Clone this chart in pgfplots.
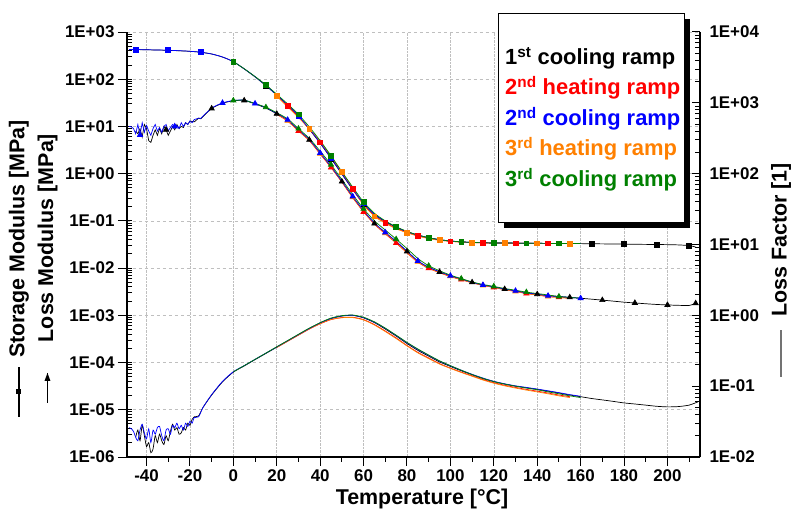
\documentclass[border=0pt]{standalone}
\usepackage{fontspec}
\setmainfont{Liberation Sans}
\usepackage{pgfplots}
\pgfplotsset{compat=1.18}
\definecolor{cRe}{RGB}{255,0,0}
\definecolor{cBl}{RGB}{0,0,255}
\definecolor{cOr}{RGB}{255,128,0}
\definecolor{cGr}{RGB}{0,128,0}
\pgfplotsset{
  base/.style={at={(0,0)}, anchor=south west, scale only axis, width=573bp, height=425bp,
    xmin=-49, xmax=215,
    tick label style={font=\fontsize{17}{17}\selectfont\bfseries},
    axis line style={line width=1.5bp, black},
    tick style={black, line width=1bp}},
  ps/.style={line width=0.7bp, smooth, tension=0.4, mark repeat=3, mark options={solid}},
  sq/.style={mark=square*, mark size=2.4bp},
  tri/.style={mark=triangle*, mark size=3bp},
  lf/.style={line width=0.7bp, smooth, tension=0.4, no marks},
}
\begin{document}
\begin{tikzpicture}
\begin{axis}[base,
  ymode=log, ymin=1e-6, ymax=1e3,
  axis x line*=bottom, axis y line*=left,
  xtick={-40,-20,...,200},
  xticklabels={-40,-20,0,20,40,60,80,100,120,140,160,180,200},
  extra x ticks={-30,-10,10,30,50,70,90,110,130,150,170,190,210},
  extra x tick labels={},
  extra x tick style={grid=none, major tick length=5bp},
  ytick={1e-6,1e-5,1e-4,1e-3,1e-2,1e-1,1,10,100,1000},
  yticklabels={1E-06,1E-05,1E-04,1E-03,1E-02,1E-01,1E+00,1E+01,1E+02,1E+03},
  tick align=outside, major tick length=9bp, minor tick length=-5bp,
  xmajorgrids, ymajorgrids,
  major x grid style={densely dotted, black!25, line width=0.6bp},
  major y grid style={dashed, black!25, line width=0.6bp},
]
% ---------- 1st cooling (black) ----------
\addplot[black, ps, sq, mark phase=1] coordinates {(-45,425)(-40,420)(-35,415)(-30,410)(-25,400)(-20,390)(-15,372)(-10,342)(-5,295)(0,235)(5,165)(10,112)(15,73)(20,46)(25,28)(30,16.5)(35,8.7)(40,4.4)(45,2.1)(50,0.98)(55,0.46)(60,0.23)(65,0.135)(70,0.097)(75,0.073)(80,0.059)(85,0.050)(90,0.044)(95,0.040)(100,0.0375)(105,0.036)(110,0.035)(115,0.0345)(120,0.034)(125,0.034)(130,0.0338)(135,0.0336)(140,0.0335)(145,0.0334)(150,0.0333)(155,0.0332)(160,0.033)(165,0.0328)(170,0.0326)(175,0.0324)(180,0.0322)(185,0.032)(190,0.0318)(195,0.0316)(200,0.0314)(205,0.031)(210,0.030)(213,0.028)};
\addplot[black, line width=0.7bp, tri, mark repeat=15, mark phase=15] coordinates {(-45,8)(-44,7)(-43,9)(-42,6)(-41,11)(-40,9)(-39,5)(-38,4.6)(-37,6.5)(-36,8.5)(-35,6.5)(-34,9)(-33,7)(-32,10)(-31,8.5)(-30,6.5)(-29,8)(-28,10)(-27,8.5)(-26,11)(-25,9)(-24,10)(-23,9.5)(-22,12)(-21,11)(-20,13)(-18,12.5)(-16,15)(-15,14.5)};
\addplot[black, ps, tri, mark phase=2] coordinates {(-15,14.5)(-10,24)(-5,31)(0,35)(5,35.5)(10,30)(15,24.5)(20,18.5)(25,13.5)(30,8.3)(35,5.2)(40,2.7)(45,1.4)(50,0.68)(55,0.32)(60,0.16)(65,0.088)(70,0.056)(75,0.036)(80,0.0225)(85,0.014)(90,0.0103)(95,0.0083)(100,0.0068)(105,0.0058)(110,0.0050)(115,0.0044)(120,0.0040)(125,0.0036)(130,0.0033)(135,0.0030)(140,0.0028)(145,0.0026)(150,0.0025)(155,0.0024)(160,0.0023)(165,0.0022)(170,0.0021)(175,0.0020)(180,0.0019)(185,0.00183)(190,0.00176)(195,0.0017)(200,0.00166)(205,0.00163)(210,0.00162)(213,0.0018)};
% ---------- 2nd heating (red) ----------
\addplot[cRe, ps, sq, mark phase=2] coordinates {(20,45)(25,27)(30,16)(35,8.8)(40,4.6)(45,2.2)(50,1.02)(55,0.47)(60,0.22)(65,0.128)(70,0.092)(75,0.070)(80,0.057)(85,0.048)(90,0.043)(95,0.039)(100,0.037)(105,0.0355)(110,0.0348)(115,0.0343)(120,0.034)(125,0.0338)(130,0.0336)(135,0.0335)(140,0.0334)(145,0.0333)(150,0.0332)(155,0.0331)};
\addplot[cRe, ps, tri, mark phase=3] coordinates {(20,18)(25,13)(30,8)(35,5.0)(40,2.6)(45,1.35)(50,0.66)(55,0.31)(60,0.155)(65,0.085)(70,0.053)(75,0.034)(80,0.021)(85,0.0133)(90,0.0099)(95,0.008)(100,0.0066)(105,0.0057)(110,0.0049)(115,0.0043)(120,0.0039)(125,0.0035)(130,0.0032)(135,0.0029)(140,0.0027)(145,0.0025)(150,0.0024)(155,0.0023)};
% ---------- 3rd heating (orange) ----------
\addplot[cOr, ps, sq, mark phase=1] coordinates {(20,44)(25,26)(30,15.5)(35,8.9)(40,4.8)(45,2.35)(50,1.08)(55,0.49)(60,0.22)(65,0.125)(70,0.089)(75,0.068)(80,0.056)(85,0.048)(90,0.042)(95,0.039)(100,0.037)(105,0.0355)(110,0.0347)(115,0.0342)(120,0.0339)(125,0.0337)(130,0.0335)(135,0.0334)(140,0.0333)(145,0.0332)(150,0.0331)(155,0.033)};
\addplot[cOr, ps, tri, mark phase=2] coordinates {(20,18.2)(25,13.2)(30,8.1)(35,5.1)(40,2.65)(45,1.38)(50,0.67)(55,0.315)(60,0.158)(65,0.087)(70,0.055)(75,0.035)(80,0.0215)(85,0.0136)(90,0.01)(95,0.0081)(100,0.0067)(105,0.0057)(110,0.0049)(115,0.0043)(120,0.0039)(125,0.0035)(130,0.0032)(135,0.0029)(140,0.0027)(145,0.0025)(150,0.0024)(155,0.0023)};
% ---------- 2nd cooling (blue) ----------
\addplot[cBl, ps, sq, mark phase=2] coordinates {(-48,428)(-45,426)(-40,421)(-35,416)(-30,411)(-25,402)(-20,391)(-15,373)(-10,343)(-5,296)(0,236)(5,166)(10,113)(15,74)(20,46.5)(25,28.5)(30,16.8)(35,8.9)(40,4.5)(45,2.15)(50,1.0)(55,0.47)(60,0.235)(65,0.138)(70,0.098)(75,0.074)(80,0.059)(85,0.050)(90,0.044)(95,0.040)(100,0.0375)(105,0.036)(110,0.035)(115,0.0345)(120,0.034)(125,0.034)(130,0.0338)(135,0.0336)(140,0.0335)(145,0.0334)(150,0.0333)(155,0.0332)(160,0.0331)};
\addplot[cBl, line width=0.7bp, tri, mark repeat=16, mark phase=6] coordinates {(-48,10)(-47,9.8)(-46,9)(-45,7)(-44,11)(-43,6.6)(-42,12)(-41,7.5)(-40,10.5)(-39,8)(-38,6.5)(-37,9)(-36,11)(-35,8)(-34,9.5)(-33,7.5)(-32,10)(-31,11)(-30,8)(-29,9.5)(-28,11)(-27,10)(-26,10.5)(-25,9)(-24,12)(-23,10)(-22,12)(-21,11)(-20,13)(-19,12)(-18,14)(-16,15)(-15,14.8)};
\addplot[cBl, ps, tri, mark phase=3] coordinates {(-15,14.8)(-10,24.5)(-5,31.5)(0,35.5)(5,36)(10,30.5)(15,25)(20,19)(25,13.8)(30,8.5)(35,5.3)(40,2.75)(45,1.42)(50,0.69)(55,0.33)(60,0.165)(65,0.09)(70,0.057)(75,0.037)(80,0.023)(85,0.0142)(90,0.0104)(95,0.0084)(100,0.0069)(105,0.0059)(110,0.0050)(115,0.0044)(120,0.0040)(125,0.0036)(130,0.0033)(135,0.0030)(140,0.0028)(145,0.0026)(150,0.0025)(155,0.0024)(160,0.0023)};
% ---------- 3rd cooling (green) ----------
\addplot[cGr, ps, sq, mark phase=1] coordinates {(0,236)(5,167)(10,114)(15,76)(20,48)(25,30)(30,18)(35,9.8)(40,5.0)(45,2.4)(50,1.1)(55,0.52)(60,0.25)(65,0.145)(70,0.10)(75,0.075)(80,0.06)(85,0.05)(90,0.044)(95,0.04)(100,0.0375)(105,0.036)(110,0.035)(115,0.0345)(120,0.034)(125,0.034)(130,0.0338)(135,0.0336)(140,0.0335)(145,0.0334)(150,0.0333)(155,0.0332)(160,0.0331)};
\addplot[cGr, ps, tri, mark phase=1] coordinates {(0,35.5)(5,36)(10,30.5)(15,25.5)(20,19.5)(25,14.5)(30,9)(35,5.6)(40,3.0)(45,1.55)(50,0.75)(55,0.36)(60,0.18)(65,0.1)(70,0.064)(75,0.041)(80,0.026)(85,0.016)(90,0.0112)(95,0.0088)(100,0.0071)(105,0.006)(110,0.0051)(115,0.0045)(120,0.0041)(125,0.0037)(130,0.0034)(135,0.0031)(140,0.0029)(145,0.0027)(150,0.0025)(155,0.0024)(160,0.0023)};
\end{axis}
\begin{axis}[base,
  ymode=log, ymin=1e-2, ymax=1e4,
  axis x line=none, axis y line*=right,
  ytick={1e-2,1e-1,1,10,100,1000,10000},
  yticklabels={1E-02,1E-01,1E+00,1E+01,1E+02,1E+03,1E+04},
  yticklabel style={xshift=6bp},
  tick align=inside, major tick length=8bp, minor tick length=5bp,
]
\addplot[black, lf] coordinates {(-45,0.019)(-44,0.024)(-43,0.017)(-42,0.028)(-41,0.02)(-40,0.014)(-39,0.016)(-38,0.0115)(-37,0.013)(-36,0.02)(-35,0.016)(-34,0.021)(-33,0.017)(-32,0.015)(-31,0.02)(-30,0.017)(-29,0.023)(-28,0.029)(-27,0.024)(-26,0.026)(-25,0.021)(-24,0.022)(-23,0.026)(-22,0.024)(-21,0.03)(-20,0.028)(-19,0.034)(-18,0.037)(-16,0.038)(-14,0.05)(-10,0.075)(-5,0.115)(0,0.158)(5,0.193)(10,0.237)(15,0.29)(20,0.355)(25,0.434)(30,0.531)(35,0.648)(40,0.776)(45,0.90)(50,0.977)(55,1.0)(60,0.92)(65,0.79)(70,0.64)(75,0.51)(80,0.40)(85,0.32)(90,0.265)(95,0.22)(100,0.19)(105,0.165)(110,0.145)(115,0.128)(120,0.116)(125,0.107)(130,0.1)(135,0.095)(140,0.09)(145,0.085)(150,0.08)(155,0.075)(160,0.071)(165,0.067)(170,0.064)(175,0.061)(180,0.058)(185,0.056)(190,0.054)(195,0.052)(200,0.051)(205,0.0515)(210,0.054)(214,0.06)};
\addplot[cRe, lf] coordinates {(20,0.352)(25,0.43)(30,0.525)(35,0.64)(40,0.76)(45,0.87)(50,0.93)(55,0.94)(60,0.87)(65,0.74)(70,0.6)(75,0.48)(80,0.375)(85,0.3)(90,0.25)(95,0.208)(100,0.18)(105,0.158)(110,0.14)(115,0.124)(120,0.112)(125,0.103)(130,0.096)(135,0.09)(140,0.085)(145,0.08)(150,0.075)(155,0.071)};
\addplot[cOr, lf] coordinates {(20,0.354)(25,0.433)(30,0.53)(35,0.645)(40,0.765)(45,0.875)(50,0.925)(55,0.93)(60,0.86)(65,0.73)(70,0.59)(75,0.47)(80,0.37)(85,0.295)(90,0.245)(95,0.205)(100,0.178)(105,0.156)(110,0.138)(115,0.122)(120,0.11)(125,0.101)(130,0.094)(135,0.088)(140,0.083)(145,0.078)(150,0.073)(155,0.069)};
\addplot[cBl, lf] coordinates {(-48,0.026)(-47,0.025)(-46,0.023)(-45,0.019)(-44,0.017)(-43,0.024)(-42,0.029)(-41,0.022)(-40,0.018)(-39,0.025)(-38,0.016)(-37,0.024)(-36,0.021)(-35,0.026)(-34,0.027)(-33,0.02)(-32,0.017)(-31,0.024)(-30,0.025)(-29,0.021)(-28,0.028)(-27,0.026)(-26,0.03)(-25,0.025)(-24,0.028)(-23,0.024)(-22,0.03)(-21,0.027)(-20,0.032)(-19,0.03)(-18,0.036)(-16,0.037)(-14,0.05)(-10,0.076)(-5,0.117)(0,0.16)(5,0.195)(10,0.239)(15,0.293)(20,0.358)(25,0.438)(30,0.536)(35,0.654)(40,0.783)(45,0.905)(50,0.982)(55,1.0)(60,0.93)(65,0.8)(70,0.655)(75,0.52)(80,0.41)(85,0.33)(90,0.272)(95,0.226)(100,0.194)(105,0.168)(110,0.147)(115,0.13)(120,0.117)(125,0.108)(130,0.101)(135,0.096)(140,0.091)(145,0.086)(150,0.081)(155,0.076)(160,0.072)};
\addplot[cGr, lf] coordinates {(0,0.159)(5,0.195)(10,0.239)(15,0.293)(20,0.36)(25,0.44)(30,0.54)(35,0.66)(40,0.79)(45,0.915)(50,0.99)(55,1.01)(60,0.94)(65,0.81)(70,0.66)(75,0.525)(80,0.415)(85,0.335)(90,0.275)(95,0.228)(100,0.195)(105,0.168)(110,0.146)(115,0.129)(120,0.116)(125,0.107)(130,0.1)(135,0.094)(140,0.089)(145,0.083)(150,0.078)(155,0.073)(160,0.069)};
\end{axis}
% ---------- axis titles ----------
\node[anchor=base, font=\fontsize{21.5}{22}\selectfont\bfseries] at (295bp,-47bp) {Temperature [°C]};
\node[rotate=90, font=\fontsize{21.5}{22}\selectfont\bfseries] at (-108bp,218bp) {Storage Modulus [MPa]};
\draw[line width=1.3bp] (-108bp,40bp) -- (-108bp,90bp);
\fill (-110.5bp,62.5bp) rectangle (-105.5bp,67.5bp);
\node[rotate=90, font=\fontsize{21.5}{22}\selectfont\bfseries] at (-79.5bp,219bp) {Loss Modulus [MPa]};
\draw[line width=1.3bp] (-79.5bp,54bp) -- (-79.5bp,84bp);
\fill (-82.5bp,76bp) -- (-76.5bp,76bp) -- (-79.5bp,84bp) -- cycle;
\node[rotate=90, font=\fontsize{21.5}{22}\selectfont\bfseries] at (654bp,217bp) {Loss Factor [1]};
\draw[line width=1.3bp, black!55] (654bp,80bp) -- (654bp,127bp);
% ---------- legend ----------
\fill[black] (377bp,229bp) rectangle (563bp,438bp);
\draw[fill=white, line width=0.8bp] (371bp,235bp) rectangle (557bp,444bp);
\begin{scope}[every node/.style={anchor=base west, inner sep=0pt, font=\fontsize{22}{22}\selectfont\bfseries}]
\node[text=black] at (378bp,392bp) {1\textsuperscript{st} cooling ramp};
\node[text=cRe] at (378bp,362bp) {2\textsuperscript{nd} heating ramp};
\node[text=cBl] at (378bp,331bp) {2\textsuperscript{nd} cooling ramp};
\node[text=cOr] at (378bp,301bp) {3\textsuperscript{rd} heating ramp};
\node[text=cGr] at (378bp,270bp) {3\textsuperscript{rd} cooling ramp};
\end{scope}
\pgfresetboundingbox
\useasboundingbox (-127bp,-53bp) rectangle (665bp,457bp);
\end{tikzpicture}
\end{document}
